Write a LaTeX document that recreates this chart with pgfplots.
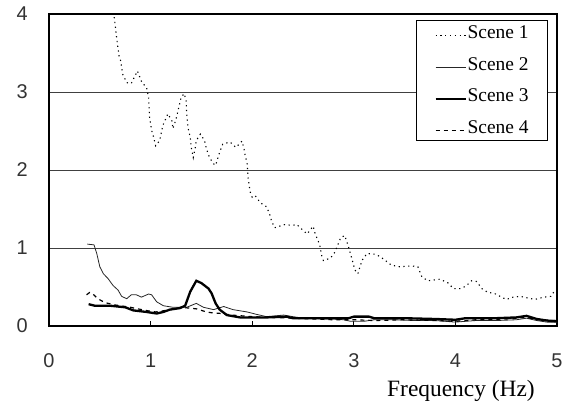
\documentclass[border=0pt]{standalone}
\usepackage{pgfplots}
\pgfplotsset{compat=1.18}
\usepackage{fontspec}
\setmainfont{Liberation Serif}
\newfontfamily\sansf{Liberation Sans}
\begin{document}
\begin{tikzpicture}
\useasboundingbox (0,0) rectangle (565bp,403bp);
\begin{axis}[
  at={(49bp,77bp)}, anchor=south west,
  scale only axis, width=508bp, height=312bp,
  xmin=0, xmax=5, ymin=0, ymax=4,
  xtick={0,1,2,3,4,5}, ytick={0,1,2,3,4},
  axis line style={line width=2bp},
  ymajorgrids, grid style={line width=1bp, black!75},
  ytick style={draw=none},
  xtick pos=bottom, xtick align=inside,
  major tick length=5bp, xtick style={line width=1bp, black},
  /pgf/number format/assume math mode=true,
  tick label style={font=\sansf\fontsize{20}{20}\selectfont, text=black!80},
  xticklabel style={anchor=base, yshift=-41bp, inner sep=0pt},
  yticklabel style={anchor=east, xshift=-21bp, inner sep=0pt},
  xlabel={Frequency (Hz)},
  xlabel style={at={(axis description cs:0.811,0)}, anchor=base, yshift=-70bp, inner sep=0pt, font=\fontsize{23.5}{23.5}\selectfont},
  legend cell align=left,
  legend image code/.code={\draw[#1] (0bp,-2.5bp) -- (30bp,-2.5bp);},
  legend style={at={(axis description cs:0.9823,0.9808)}, anchor=north east,
    draw=black, line width=0.8bp, fill=white,
    font=\fontsize{19.5}{19.5}\selectfont,
    inner xsep=18bp, inner ysep=4bp, row sep=15.5bp,
    nodes={inner sep=1bp}},
  clip=true,
]
% Scene 1
\addplot[black, line width=1.1bp, dash pattern=on 1.2bp off 3.6bp] coordinates {
(0.63,4.02)(0.643,3.95)(0.66,3.76)(0.676,3.59)(0.69,3.46)(0.705,3.40)(0.725,3.23)(0.765,3.12)(0.81,3.11)(0.84,3.19)(0.87,3.27)(0.915,3.12)(0.96,3.06)(0.98,2.93)(0.99,2.67)(1.01,2.51)(1.03,2.42)(1.05,2.31)(1.09,2.38)(1.12,2.57)(1.17,2.72)(1.21,2.63)(1.22,2.53)(1.25,2.65)(1.27,2.76)(1.30,2.93)(1.33,2.98)(1.35,2.89)(1.355,2.72)(1.37,2.53)(1.39,2.42)(1.40,2.29)(1.42,2.16)(1.44,2.29)(1.45,2.38)(1.49,2.46)(1.53,2.38)(1.55,2.27)(1.58,2.16)(1.62,2.08)(1.64,2.06)(1.68,2.23)(1.71,2.33)(1.78,2.36)(1.84,2.29)(1.87,2.33)(1.90,2.37)(1.92,2.27)(1.93,2.19)(1.95,2.09)(1.96,1.89)(1.98,1.72)(2.0,1.65)(2.03,1.67)(2.08,1.58)(2.14,1.53)(2.17,1.44)(2.19,1.35)(2.22,1.26)(2.32,1.30)(2.39,1.29)(2.44,1.30)(2.49,1.24)(2.54,1.18)(2.60,1.28)(2.62,1.18)(2.65,1.09)(2.67,1.01)(2.68,0.92)(2.70,0.84)(2.77,0.87)(2.81,0.94)(2.84,1.03)(2.87,1.13)(2.91,1.16)(2.94,1.05)(2.96,0.96)(2.99,0.82)(3.01,0.72)(3.04,0.67)(3.08,0.84)(3.13,0.93)(3.21,0.92)(3.26,0.89)(3.37,0.78)(3.45,0.76)(3.57,0.77)(3.63,0.76)(3.67,0.63)(3.73,0.58)(3.85,0.60)(3.93,0.55)(3.98,0.48)(4.06,0.48)(4.11,0.52)(4.16,0.58)(4.21,0.57)(4.26,0.48)(4.32,0.43)(4.38,0.42)(4.50,0.34)(4.57,0.37)(4.64,0.38)(4.78,0.34)(4.87,0.37)(4.94,0.38)(4.98,0.46)
};
\addlegendentry{Scene 1}
% Scene 2
\addplot[black!85, line width=0.8bp] coordinates {
(0.377,1.05)(0.443,1.04)(0.47,0.93)(0.50,0.76)(0.535,0.67)(0.58,0.61)(0.63,0.52)(0.68,0.46)(0.715,0.38)(0.765,0.35)(0.81,0.40)(0.86,0.40)(0.91,0.37)(0.98,0.41)(1.01,0.40)(1.06,0.31)(1.125,0.26)(1.22,0.24)(1.355,0.24)(1.45,0.29)(1.52,0.24)(1.62,0.21)(1.72,0.25)(1.81,0.21)(1.95,0.18)(2.04,0.15)(2.14,0.12)(2.31,0.14)(2.40,0.12)(2.5,0.10)(2.6,0.10)(2.7,0.09)(2.8,0.09)(2.9,0.08)(2.97,0.06)(3.1,0.06)(3.2,0.08)(3.4,0.08)(3.6,0.07)(3.8,0.07)(4.0,0.05)(4.2,0.07)(4.4,0.07)(4.6,0.08)(4.7,0.10)(4.8,0.07)(4.9,0.05)(5.0,0.05)
};
\addlegendentry{Scene 2}
% Scene 3
\addplot[black, line width=2.3bp] coordinates {
(0.39,0.28)(0.45,0.26)(0.60,0.26)(0.75,0.24)(0.83,0.20)(0.96,0.18)(1.06,0.16)(1.125,0.18)(1.19,0.21)(1.29,0.23)(1.34,0.26)(1.39,0.44)(1.45,0.58)(1.50,0.55)(1.57,0.48)(1.60,0.42)(1.64,0.29)(1.68,0.21)(1.75,0.14)(1.88,0.11)(2.01,0.11)(2.14,0.11)(2.34,0.12)(2.40,0.10)(2.6,0.10)(2.8,0.10)(2.95,0.10)(3.0,0.12)(3.15,0.12)(3.2,0.10)(3.5,0.10)(3.8,0.09)(4.0,0.08)(4.1,0.10)(4.4,0.10)(4.6,0.11)(4.7,0.13)(4.8,0.09)(4.9,0.07)(5.0,0.06)
};
\addlegendentry{Scene 3}
% Scene 4
\addplot[black, line width=1.2bp, dash pattern=on 4bp off 4bp] coordinates {
(0.37,0.40)(0.40,0.43)(0.44,0.40)(0.48,0.35)(0.55,0.30)(0.65,0.27)(0.8,0.24)(0.95,0.20)(1.05,0.18)(1.15,0.20)(1.3,0.24)(1.45,0.22)(1.55,0.18)(1.6,0.17)(1.7,0.16)(1.8,0.14)(2.0,0.12)(2.2,0.11)(2.4,0.10)(2.6,0.09)(2.8,0.08)(3.0,0.08)(3.2,0.07)(3.5,0.08)(3.8,0.07)(4.0,0.06)(4.2,0.08)(4.5,0.09)(4.7,0.11)(4.8,0.08)(5.0,0.07)
};
\addlegendentry{Scene 4}
\end{axis}
\end{tikzpicture}
\end{document}
